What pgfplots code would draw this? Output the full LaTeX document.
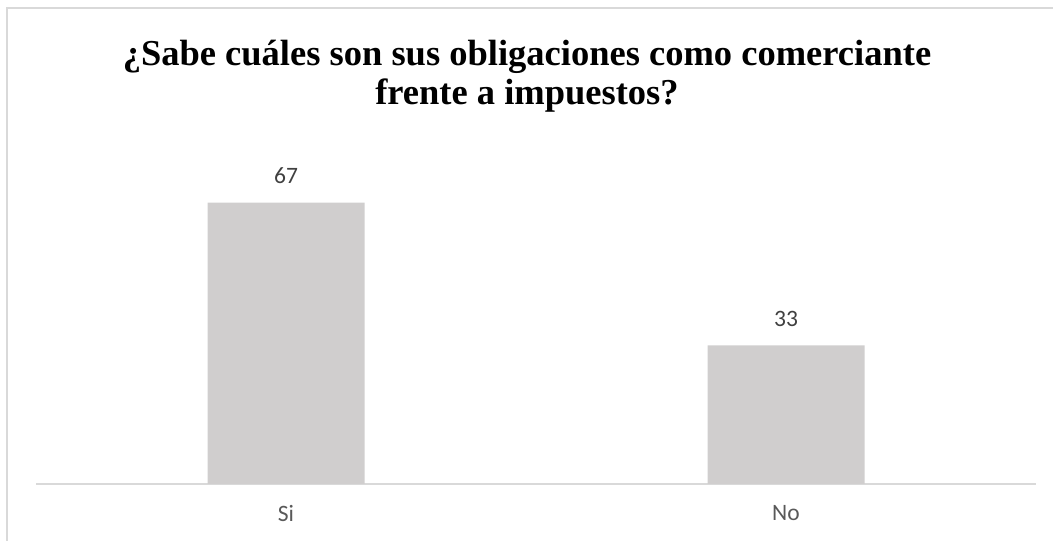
\documentclass[border=0pt]{standalone}
\usepackage{pgfplots}
\pgfplotsset{compat=1.18}
\usepackage{fontspec}
\setmainfont{Liberation Serif}
\newfontfamily\calibri{Carlito}
\definecolor{barfill}{HTML}{D0CECE}
\definecolor{gridc}{HTML}{D9D9D9}
\definecolor{txt}{HTML}{595959}
\definecolor{lbl}{HTML}{404040}
\begin{document}
\begin{tikzpicture}[x=1pt,y=1pt]
\path[use as bounding box] (0,0) rectangle (1053,541);
\draw[gridc, line width=2pt] (7,0) -- (7,533) -- (1053,533);
\node[font=\bfseries\fontsize{36.5}{39}\selectfont, align=center] at (527,465) {¿Sabe cuáles son sus obligaciones como comerciante\\frente a impuestos?};
\begin{axis}[
  at={(36pt,57pt)}, anchor=south west,
  width=1000pt, height=336pt, scale only axis,
  xmin=-0.5, xmax=1.5, ymin=0, ymax=80,
  axis y line=none,
  axis x line*=bottom,
  x axis line style={gridc, line width=1.5pt, -},
  xtick=data, xticklabels={Si,No},
  xtick style={draw=none},
  x tick label style={font=\calibri\fontsize{23.5}{26}\selectfont, text=txt, yshift=-14pt},
  ybar, bar width=157pt,
  nodes near coords,
  /pgf/number format/assume math mode=true,
  every node near coord/.append style={font=\calibri\fontsize{23.5}{26}\selectfont, text=lbl, yshift=15pt},
  clip=false,
]
\addplot[fill=barfill, draw=none] coordinates {(0,67) (1,33)};
\end{axis}
\end{tikzpicture}
\end{document}
